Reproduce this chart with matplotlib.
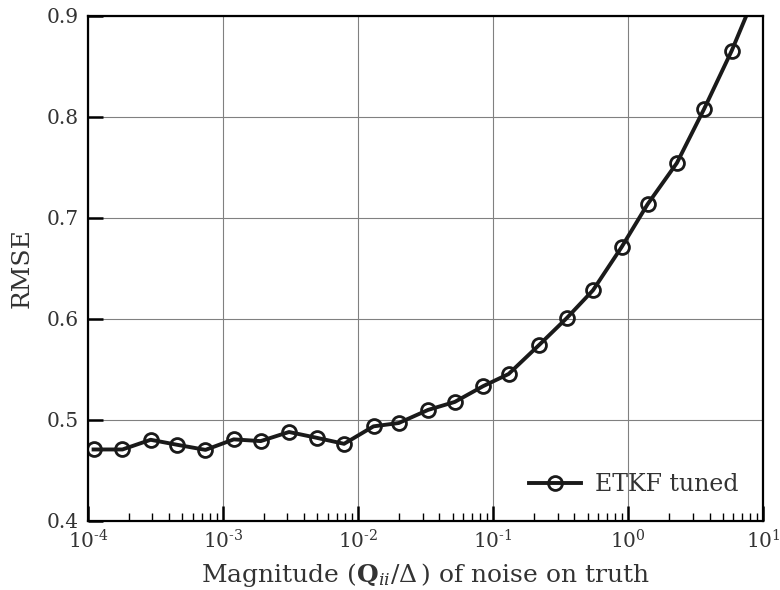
import matplotlib
matplotlib.use("Agg")
import matplotlib.pyplot as plt
from matplotlib.ticker import LogLocator, NullFormatter, FixedLocator, FixedFormatter

noise_mag = [1.10e-4, 1.80e-4, 2.91e-4, 4.59e-4, 7.41e-4, 1.20e-3, 1.90e-3, 3.08e-3,
             4.92e-3, 7.87e-3, 1.30e-2, 2.00e-2, 3.30e-2, 5.20e-2, 8.43e-2, 0.130,
             0.219, 0.350, 0.548, 0.893, 1.39, 2.29, 3.64, 5.83, 9.29]
rmse = [0.4705, 0.4705, 0.4801, 0.4751, 0.4701, 0.4805, 0.4788, 0.4878,
        0.4821, 0.4761, 0.4934, 0.4967, 0.5097, 0.5176, 0.5332, 0.5452,
        0.5740, 0.6005, 0.6281, 0.6709, 0.7133, 0.7541, 0.8075, 0.8652, 0.930]
series_label = "ETKF tuned"
xlabel = r"Magnitude ($\mathbf{Q}_{ii}/\Delta\,$) of noise on truth"
ylabel = "RMSE"
yticks = [0.4, 0.5, 0.6, 0.7, 0.8, 0.9]
xtick_exps = [-4, -3, -2, -1, 0, 1]
xtick_labels = [r"$10^{\text{%d}}$" % e for e in xtick_exps]

plt.rcParams['font.family'] = ['DejaVu Serif']
plt.rcParams['mathtext.fontset'] = 'dejavuserif'

fig = plt.figure(figsize=(7.8, 5.9), dpi=100)
ax = fig.add_axes([0.1128, 0.1175, 0.8658, 0.8559])

ax.plot(noise_mag, rmse, color='#1a1a1a', lw=2.8, marker='o', ms=10,
        mfc='none', mec='#1a1a1a', mew=2.0, label=series_label)

ax.set_xscale('log')
ax.set_xlim(1e-4, 1e1)
ax.set_ylim(0.4, 0.9)
ax.set_yticks(yticks)
ax.xaxis.set_major_locator(FixedLocator([10.0 ** e for e in xtick_exps]))
ax.xaxis.set_major_formatter(FixedFormatter(xtick_labels))
ax.xaxis.set_minor_locator(LogLocator(base=10, subs=range(2, 10), numticks=100))
ax.xaxis.set_minor_formatter(NullFormatter())

ax.grid(True, which='major', color='#808080', lw=0.8)
ax.set_axisbelow(True)

for s in ax.spines.values():
    s.set_linewidth(1.6)
    s.set_color('black')

ax.tick_params(which='major', direction='in', length=11, width=1.8,
               labelsize=14.5, labelcolor='#333333')
ax.tick_params(axis='x', which='major', pad=6)
ax.tick_params(axis='y', which='major', pad=7)
ax.tick_params(which='minor', direction='in', length=5.5, width=1.0)

ax.set_xlabel(xlabel, fontsize=18, color='#333333', labelpad=6)
ax.set_ylabel(ylabel, fontsize=18, color='#333333', labelpad=9)

leg = ax.legend(loc='lower right', frameon=False, fontsize=17,
                handlelength=2.2, borderaxespad=0.65, handletextpad=0.6)
for t in leg.get_texts():
    t.set_color('#333333')

fig.savefig('out.png', dpi=100)
